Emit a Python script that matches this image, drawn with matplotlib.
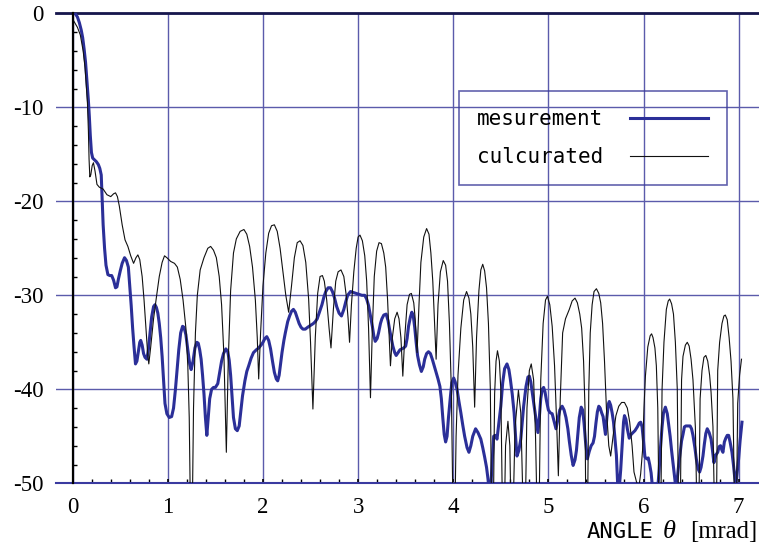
import matplotlib
matplotlib.use("Agg")
import matplotlib.pyplot as plt
from matplotlib.ticker import MultipleLocator, FixedLocator

plt.rcParams['font.family'] = 'serif'
plt.rcParams['font.serif'] = ['Liberation Serif', 'DejaVu Serif']
plt.rcParams['axes.unicode_minus'] = False

# ---- data ----
theta_calc = [0.01, 0.05, 0.08, 0.11, 0.13, 0.145, 0.155, 0.165, 0.172, 0.18, 0.19, 0.205, 0.218, 0.235, 0.255,
              0.28, 0.32, 0.36, 0.40, 0.43, 0.45, 0.47, 0.49, 0.52, 0.55, 0.58, 0.61, 0.64, 0.665, 0.685, 0.705,
              0.73, 0.75, 0.77, 0.79, 0.80, 0.82, 0.85, 0.88, 0.91, 0.94, 0.965, 0.99, 1.03, 1.07, 1.10, 1.13,
              1.16, 1.19, 1.21, 1.225, 1.24, 1.255, 1.27, 1.29, 1.31, 1.34, 1.38, 1.42, 1.45, 1.48, 1.51, 1.54,
              1.565, 1.59, 1.615, 1.635, 1.66, 1.69, 1.72, 1.76, 1.80, 1.83, 1.86, 1.89, 1.92, 1.94, 1.955,
              1.975, 2.00, 2.03, 2.06, 2.09, 2.12, 2.15, 2.18, 2.21, 2.24, 2.27, 2.30, 2.33, 2.36, 2.39, 2.42,
              2.45, 2.48, 2.50, 2.525, 2.55, 2.575, 2.60, 2.625, 2.645, 2.67, 2.695, 2.715, 2.74, 2.765, 2.79,
              2.82, 2.85, 2.875, 2.895, 2.91, 2.93, 2.955, 2.98, 3.00, 3.02, 3.045, 3.07, 3.09, 3.11, 3.13,
              3.15, 3.17, 3.195, 3.22, 3.245, 3.27, 3.29, 3.31, 3.325, 3.34, 3.36, 3.385, 3.41, 3.43, 3.45,
              3.47, 3.49, 3.515, 3.54, 3.56, 3.585, 3.60, 3.62, 3.64, 3.66, 3.69, 3.72, 3.745, 3.765, 3.785,
              3.80, 3.82, 3.84, 3.865, 3.895, 3.92, 3.94, 3.96, 3.98, 4.00, 4.015, 4.03, 4.05, 4.08, 4.11,
              4.14, 4.165, 4.185, 4.205, 4.225, 4.245, 4.27, 4.29, 4.31, 4.33, 4.35, 4.37, 4.39, 4.405, 4.42,
              4.435, 4.45, 4.465, 4.485, 4.50, 4.52, 4.535, 4.55, 4.575, 4.595, 4.61, 4.625, 4.65, 4.685,
              4.71, 4.74, 4.755, 4.775, 4.80, 4.82, 4.845, 4.865, 4.885, 4.90, 4.92, 4.945, 4.97, 4.99,
              5.015, 5.04, 5.065, 5.085, 5.105, 5.125, 5.15, 5.18, 5.22, 5.25, 5.28, 5.305, 5.33, 5.35,
              5.37, 5.385, 5.395, 5.41, 5.425, 5.44, 5.46, 5.48, 5.505, 5.53, 5.55, 5.57, 5.59, 5.61, 5.635,
              5.655, 5.68, 5.71, 5.74, 5.77, 5.80, 5.83, 5.855, 5.88, 5.90, 5.925, 5.95, 5.97, 5.99, 6.005,
              6.02, 6.045, 6.07, 6.085, 6.10, 6.12, 6.135, 6.15, 6.165, 6.18, 6.195, 6.215, 6.24, 6.26,
              6.275, 6.295, 6.315, 6.335, 6.355, 6.37, 6.385, 6.40, 6.415, 6.44, 6.46, 6.48, 6.50, 6.52,
              6.545, 6.565, 6.58, 6.595, 6.615, 6.635, 6.655, 6.675, 6.695, 6.71, 6.73, 6.75, 6.765, 6.78,
              6.80, 6.825, 6.845, 6.86, 6.88, 6.90, 6.92, 6.94, 6.96, 6.975, 6.99, 7.01, 7.03]
level_calc = [-0.8, -1.5, -2.3, -4.0, -5.8, -8.0, -9.5, -12.5, -15.5, -17.4, -17.2, -16.2, -15.9, -16.8, -18.2,
              -18.5, -18.7, -19.3, -19.5, -19.2, -19.1, -19.5, -20.5, -22.5, -24.1, -24.8, -25.8, -26.6, -26.0,
              -25.7, -26.2, -28.0, -30.5, -33.5, -36.5, -37.3, -35.5, -32.5, -30.2, -28.0, -26.5, -25.8, -26.0,
              -26.4, -26.6, -27.0, -28.3, -30.5, -33.5, -37.5, -43.0, -55, -55, -42.0, -34.0, -30.0, -27.3,
              -26.0, -25.0, -24.8, -25.2, -26.0, -28.0, -31.0, -36.5, -46.7, -37.0, -29.5, -25.5, -24.0, -23.2,
              -23.0, -23.5, -24.8, -27.0, -30.5, -34.5, -38.9, -34.0, -29.0, -25.5, -23.4, -22.6, -22.5, -23.2,
              -25.0, -27.5, -30.0, -31.8, -29.0, -26.0, -24.4, -24.2, -24.7, -26.5, -30.4, -35.0, -42.1, -34.5,
              -29.8, -28.0, -27.9, -28.5, -30.5, -33.5, -35.6, -31.5, -28.5, -27.5, -27.3, -28.0, -30.0, -32.5,
              -35.0, -31.0, -27.5, -25.0, -23.8, -23.6, -24.2, -25.8, -28.5, -33.5, -40.9, -33.5, -28.0, -25.3,
              -24.4, -24.5, -25.5, -27.0, -30.5, -34.0, -37.5, -34.5, -32.5, -31.8, -32.5, -34.5, -38.6, -34.5,
              -31.0, -29.9, -29.8, -30.8, -32.5, -36.1, -31.0, -26.5, -23.8, -22.9, -23.5, -25.5, -28.5, -32.0,
              -36.8, -31.0, -27.5, -26.3, -26.8, -28.5, -33.0, -40.0, -55, -55, -45.0, -38.5, -33.5, -30.5,
              -29.6, -30.3, -32.0, -35.5, -41.9, -34.5, -29.5, -27.3, -26.7, -27.4, -29.2, -33.0, -40.0, -55,
              -55, -40.5, -37.0, -35.9, -37.0, -40.0, -55, -55, -46.0, -43.4, -46.0, -55, -55, -44.0, -40.1,
              -42.5, -55, -55, -42.0, -38.0, -37.3, -39.0, -45.0, -55, -55, -39.0, -33.0, -30.5, -30.1, -31.0,
              -33.3, -37.5, -43.0, -49.2, -41.0, -34.0, -32.5, -31.5, -30.6, -30.3, -30.8, -32.0, -33.5, -37.0,
              -42.0, -55, -55, -40.0, -34.0, -31.0, -29.6, -29.3, -29.8, -30.8, -33.0, -37.0, -42.0, -46.0,
              -47.1, -45.0, -42.8, -41.8, -41.4, -41.4, -42.0, -43.5, -46.0, -48.8, -49.8, -50.5, -49.0, -46.5,
              -42.0, -38.6, -35.5, -34.3, -34.1, -34.5, -35.6, -37.5, -42.0, -55, -55, -40.0, -35.0, -31.5,
              -30.6, -30.4, -30.9, -32.0, -35.0, -40.0, -55, -55, -39.0, -36.5, -35.3, -35.0, -35.4, -36.8,
              -39.0, -44.0, -55, -55, -41.0, -38.0, -36.6, -36.4, -37.0, -38.5, -40.3, -44.0, -55, -55, -38.0,
              -35.0, -33.0, -32.2, -32.1, -32.6, -34.5, -37.0, -41.0, -55, -55, -41.5, -38.5, -36.8]

theta_meas = [0.025, 0.05, 0.07, 0.09, 0.105, 0.12, 0.135, 0.15, 0.165, 0.175, 0.185, 0.197, 0.21, 0.23, 0.25,
              0.27, 0.285, 0.30, 0.31, 0.32, 0.335, 0.35, 0.37, 0.39, 0.41, 0.43, 0.45, 0.465, 0.48, 0.50, 0.52,
              0.545, 0.565, 0.585, 0.60, 0.615, 0.63, 0.645, 0.66, 0.675, 0.69, 0.705, 0.715, 0.73, 0.745, 0.76,
              0.78, 0.795, 0.81, 0.83, 0.85, 0.865, 0.88, 0.895, 0.91, 0.925, 0.94, 0.955, 0.97, 0.99, 1.015,
              1.04, 1.06, 1.08, 1.095, 1.115, 1.135, 1.155, 1.17, 1.19, 1.21, 1.23, 1.245, 1.265, 1.285, 1.305,
              1.32, 1.335, 1.35, 1.365, 1.38, 1.395, 1.41, 1.425, 1.44, 1.46, 1.48, 1.50, 1.525, 1.545, 1.565,
              1.585, 1.61, 1.63, 1.645, 1.66, 1.675, 1.69, 1.71, 1.73, 1.75, 1.765, 1.785, 1.81, 1.83, 1.85,
              1.875, 1.90, 1.93, 1.955, 1.98, 2.00, 2.02, 2.04, 2.06, 2.08, 2.10, 2.12, 2.14, 2.155, 2.17, 2.185,
              2.20, 2.22, 2.235, 2.26, 2.28, 2.30, 2.32, 2.34, 2.36, 2.38, 2.40, 2.42, 2.445, 2.47, 2.50, 2.53,
              2.55, 2.57, 2.59, 2.62, 2.64, 2.66, 2.685, 2.71, 2.73, 2.75, 2.775, 2.80, 2.825, 2.85, 2.87, 2.89,
              2.92, 2.95, 2.98, 3.01, 3.04, 3.07, 3.09, 3.11, 3.13, 3.15, 3.165, 3.18, 3.20, 3.215, 3.235, 3.25,
              3.27, 3.295, 3.315, 3.33, 3.35, 3.365, 3.385, 3.40, 3.42, 3.44, 3.46, 3.48, 3.50, 3.515, 3.53,
              3.55, 3.565, 3.58, 3.595, 3.61, 3.625, 3.645, 3.665, 3.685, 3.70, 3.72, 3.74, 3.76, 3.78, 3.80,
              3.82, 3.84, 3.86, 3.875, 3.89, 3.905, 3.92, 3.935, 3.95, 3.97, 3.985, 4.005, 4.02, 4.04, 4.06,
              4.08, 4.10, 4.12, 4.145, 4.165, 4.185, 4.205, 4.235, 4.26, 4.29, 4.31, 4.33, 4.35, 4.365, 4.375,
              4.395, 4.41, 4.425, 4.44, 4.46, 4.48, 4.50, 4.52, 4.54, 4.565, 4.585, 4.60, 4.62, 4.64, 4.655,
              4.67, 4.69, 4.71, 4.725, 4.74, 4.765, 4.785, 4.80, 4.815, 4.83, 4.85, 4.87, 4.89, 4.905, 4.92,
              4.935, 4.95, 4.965, 4.98, 5.00, 5.02, 5.04, 5.06, 5.08, 5.10, 5.12, 5.145, 5.165, 5.185, 5.205,
              5.22, 5.24, 5.26, 5.28, 5.295, 5.31, 5.325, 5.345, 5.36, 5.375, 5.39, 5.41, 5.43, 5.45, 5.47,
              5.485, 5.50, 5.515, 5.53, 5.545, 5.56, 5.575, 5.59, 5.60, 5.615, 5.63, 5.64, 5.655, 5.67, 5.685,
              5.70, 5.715, 5.73, 5.745, 5.76, 5.775, 5.79, 5.80, 5.815, 5.83, 5.85, 5.87, 5.89, 5.91, 5.935,
              5.955, 5.97, 5.985, 6.00, 6.015, 6.035, 6.05, 6.065, 6.08, 6.095, 6.15, 6.165, 6.18, 6.195, 6.21,
              6.23, 6.25, 6.265, 6.28, 6.295, 6.31, 6.325, 6.34, 6.355, 6.37, 6.385, 6.40, 6.415, 6.43, 6.445,
              6.47, 6.49, 6.505, 6.52, 6.54, 6.555, 6.575, 6.59, 6.605, 6.625, 6.64, 6.655, 6.67, 6.69, 6.71,
              6.725, 6.74, 6.76, 6.78, 6.795, 6.81, 6.825, 6.835, 6.85, 6.865, 6.88, 6.895, 6.91, 6.93, 6.945,
              6.96, 6.97, 6.985, 7.00, 7.015, 7.035]
level_meas = [0.0, -0.4, -1.0, -1.8, -2.6, -3.8, -5.2, -7.2, -9.3, -11.0, -13.0, -14.8, -15.4, -15.6, -15.8,
              -16.1, -16.5, -17.2, -20.0, -22.5, -25.0, -26.8, -27.8, -27.9, -27.9, -28.4, -29.2, -29.1, -28.3,
              -27.4, -26.6, -26.0, -26.3, -27.0, -29.0, -31.1, -33.5, -35.5, -37.3, -37.0, -36.0, -35.0, -34.8,
              -35.3, -36.2, -36.6, -36.8, -35.8, -34.3, -32.3, -31.2, -31.0, -31.3, -31.9, -33.0, -34.5, -36.5,
              -39.0, -41.5, -42.6, -43.0, -42.9, -42.0, -40.0, -38.2, -35.8, -34.0, -33.3, -33.4, -34.2, -35.8,
              -37.3, -37.9, -37.0, -35.6, -35.0, -35.1, -35.8, -36.8, -38.5, -40.5, -43.0, -44.9, -43.0, -41.0,
              -40.0, -39.8, -39.8, -39.4, -38.2, -37.0, -36.2, -35.7, -36.0, -36.9, -38.5, -40.8, -43.0, -44.2,
              -44.4, -43.9, -42.5, -40.7, -39.1, -38.1, -37.5, -36.7, -36.1, -35.8, -35.6, -35.3, -35.0, -34.6,
              -34.4, -34.8, -35.7, -37.0, -38.2, -38.9, -39.1, -38.5, -37.3, -36.1, -34.8, -34.0, -32.8, -32.2,
              -31.7, -31.5, -31.8, -32.4, -33.0, -33.4, -33.6, -33.6, -33.4, -33.2, -33.0, -32.8, -32.5, -31.9,
              -31.0, -30.2, -29.6, -29.2, -29.2, -29.6, -30.2, -31.2, -31.9, -32.2, -31.5, -30.7, -30.0, -29.6,
              -29.7, -29.8, -29.9, -30.0, -30.0, -30.4, -31.1, -32.2, -33.3, -34.3, -34.9, -34.6, -34.0, -33.0,
              -32.5, -32.1, -32.0, -32.7, -33.6, -34.6, -35.4, -36.1, -36.4, -36.1, -35.8, -35.7, -35.6, -35.4,
              -34.6, -33.3, -32.3, -31.8, -32.2, -33.4, -35.0, -36.4, -37.4, -38.1, -37.6, -36.8, -36.2, -36.0,
              -36.2, -36.8, -37.5, -38.2, -38.9, -39.7, -41.0, -43.0, -44.8, -45.6, -45.0, -43.0, -40.8, -39.3,
              -38.8, -39.2, -40.0, -41.3, -42.5, -43.8, -45.0, -46.2, -46.7, -46.0, -45.0, -44.2, -44.6, -45.3,
              -46.2, -47.2, -48.3, -49.5, -50.5, -50.5, -47.5, -45.0, -44.9, -45.3, -43.5, -41.8, -39.3, -37.8,
              -37.3, -37.9, -38.9, -40.5, -42.5, -45.0, -47.1, -46.5, -45.3, -43.5, -41.8, -39.7, -38.7, -38.6,
              -39.2, -40.3, -41.8, -43.2, -44.6, -43.0, -41.0, -40.0, -39.8, -40.3, -41.2, -42.2, -42.5, -42.6,
              -43.4, -44.2, -43.2, -42.2, -41.8, -42.2, -43.0, -44.2, -45.5, -47.0, -48.1, -47.5, -46.5, -44.8,
              -43.0, -41.9, -42.2, -43.6, -45.5, -47.4, -46.6, -46.0, -45.7, -45.0, -43.6, -42.4, -41.8, -42.0,
              -42.5, -42.9, -44.0, -44.8, -43.0, -41.6, -41.3, -41.7, -42.5, -43.5, -45.2, -47.0, -50.5, -50.5,
              -48.6, -46.0, -43.5, -42.8, -43.2, -44.2, -45.2, -44.8, -44.6, -44.4, -44.0, -43.6, -43.5, -44.0,
              -45.5, -47.2, -47.4, -47.3, -48.0, -48.9, -50.5, -50.5, -48.5, -46.0, -44.0, -42.5, -41.9, -42.6,
              -43.8, -45.0, -46.5, -47.8, -49.2, -50.5, -49.5, -48.0, -46.8, -45.5, -44.8, -44.0, -43.9, -43.9,
              -43.9, -44.2, -44.9, -46.2, -47.4, -48.5, -48.8, -48.3, -47.1, -45.8, -44.7, -44.2, -44.6, -45.3,
              -46.5, -47.8, -47.0, -46.7, -46.1, -46.0, -46.5, -46.7, -45.6, -45.2, -44.9, -44.9, -45.6, -46.7,
              -48.0, -49.5, -50.2, -48.8, -47.4, -45.5, -43.5]

x_ticks = [0, 1, 2, 3, 4, 5, 6, 7]
y_ticks = [0, -10, -20, -30, -40, -50]
series_labels = ["mesurement", "culcurated"]

# ---- figure ----
W, H = 759, 546
fig = plt.figure(figsize=(W / 100, H / 100), dpi=100)
ax = fig.add_axes([56 / W, 1 - 483.3 / H, (W - 56) / W, 470 / H])

grid_c = '#5b5bab'
blue_c = '#2b2f98'

ax.set_xlim(-0.1755, 7.214)
ax.set_ylim(-50, 0)
ax.set_xticks(x_ticks)
ax.set_yticks(y_ticks)
ax.xaxis.set_minor_locator(FixedLocator([i * 0.2 for i in range(36)]))
ax.yaxis.set_minor_locator(MultipleLocator(2))
ax.grid(which='major', color=grid_c, lw=1.0, zorder=0)
ax.set_axisbelow(True)

ln_m, = ax.plot(theta_meas, level_meas, color=blue_c, lw=2.2, label=series_labels[0], zorder=3)
ln_c, = ax.plot(theta_calc, level_calc, color='#111111', lw=0.8, label=series_labels[1], zorder=4)

ax.spines['left'].set_position(('data', 0))
ax.spines['left'].set_color('black')
ax.spines['left'].set_linewidth(1.6)
ax.spines['left'].set_zorder(5)
ax.spines['right'].set_visible(False)
ax.spines['top'].set_color('#16164c')
ax.spines['top'].set_linewidth(2.0)
ax.spines['bottom'].set_color('#3a3aa0')
ax.spines['bottom'].set_linewidth(1.5)

ax.tick_params(axis='y', which='major', length=0, pad=21, labelsize=16.5,
               labelfontfamily='Liberation Serif')
ax.tick_params(axis='y', which='minor', direction='in', length=2.6, width=1.0, color='black')
ax.tick_params(axis='x', which='major', direction='in', length=3.0, width=1.2, color='black',
               pad=10, labelsize=16.5, labelfontfamily='Liberation Serif')
ax.tick_params(axis='x', which='minor', direction='in', length=2.6, width=1.0, color='black')

leg = ax.legend(handles=[ln_m, ln_c], loc='upper left', bbox_to_anchor=(459 / W, 1 - 91 / H),
                bbox_transform=fig.transFigure, borderaxespad=0, markerfirst=False,
                prop={'family': 'DejaVu Sans Mono', 'size': 15}, handlelength=3.74,
                handletextpad=1.3, borderpad=0.87, labelspacing=0.87, fancybox=False, frameon=True)
fr = leg.get_frame()
fr.set_facecolor('none')
fr.set_edgecolor('#3a3a9a')
fr.set_linewidth(1.2)

yb = 1 - 538.3 / H
fig.text(587 / W, yb, 'ANGLE', ha='left', va='baseline', family='DejaVu Sans Mono', fontsize=16)
fig.text(663 / W, yb, 'θ', ha='left', va='baseline', family='Liberation Serif', style='italic', fontsize=19)
fig.text(757 / W, yb, '[mrad]', ha='right', va='baseline', family='Liberation Serif', fontsize=17.7)

fig.savefig('out.png', dpi=100)
